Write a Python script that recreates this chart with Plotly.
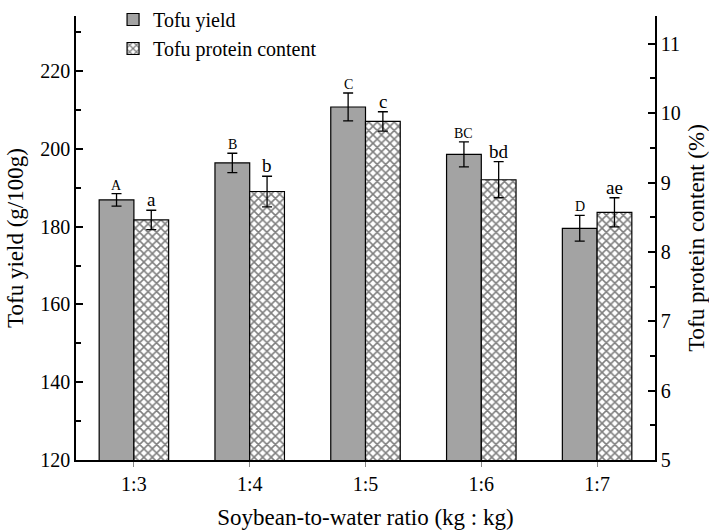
import plotly.graph_objects as go

categories = ["1:3", "1:4", "1:5", "1:6", "1:7"]
yield_vals = [186.9, 196.4, 210.8, 198.6, 179.6]
yield_err = [1.6, 2.5, 3.6, 3.2, 3.3]
protein_vals = [8.46, 8.87, 9.88, 9.04, 8.57]
protein_err = [0.14, 0.22, 0.14, 0.26, 0.21]
yield_letters = ["A", "B", "C", "BC", "D"]
protein_letters = ["a", "b", "c", "bd", "ae"]

FONT = "Liberation Serif"

fig = go.Figure()
fig.add_trace(go.Bar(
    x=categories, y=yield_vals, name="Tofu yield",
    marker=dict(color="#a3a3a3", line=dict(color="black", width=1.2)),
    error_y=dict(type="data", array=yield_err, color="black", thickness=1.3, width=5),
    yaxis="y", offsetgroup="a",
))
fig.add_trace(go.Bar(
    x=categories, y=protein_vals, name="Tofu protein content",
    marker=dict(color="white", line=dict(color="black", width=1.2),
                pattern=dict(shape="x", fgcolor="black", bgcolor="white", size=6, solidity=0.45)),
    error_y=dict(type="data", array=protein_err, color="black", thickness=1.3, width=5),
    yaxis="y2", offsetgroup="b",
))

annotations = []
for c, v, e, t in zip(categories, yield_vals, yield_err, yield_letters):
    annotations.append(dict(x=c, y=v + e, xref="x", yref="y", text=t, showarrow=False,
                            xshift=-17.5, yanchor="bottom", yshift=-1,
                            font=dict(family=FONT, size=14, color="black")))
for c, v, e, t in zip(categories, protein_vals, protein_err, protein_letters):
    annotations.append(dict(x=c, y=v + e, xref="x", yref="y2", text=t, showarrow=False,
                            xshift=17.5, yanchor="bottom", yshift=-2,
                            font=dict(family=FONT, size=19, color="black")))

fig.update_layout(
    width=709, height=532,
    margin=dict(l=76, r=54, t=0, b=72),
    paper_bgcolor="white", plot_bgcolor="white",
    barmode="group", bargap=0.4, bargroupgap=0,
    font=dict(family=FONT, color="black", size=20),
    showlegend=True,
    legend=dict(x=0.064, y=1.037, xanchor="left", yanchor="top",
                font=dict(family=FONT, size=20), bgcolor="rgba(0,0,0,0)",
                tracegroupgap=0, itemwidth=30),
    xaxis=dict(
        range=[-0.5, 4.5], showline=True, linecolor="black", linewidth=1.5,
        ticks="outside", ticklen=5, tickcolor="#888", tickwidth=1,
        tickfont=dict(family=FONT, size=20), automargin=False,
        title=dict(text="Soybean-to-water ratio (kg : kg)", font=dict(family=FONT, size=23), standoff=15),
        showgrid=False, zeroline=False, mirror=False,
    ),
    yaxis=dict(
        range=[120, 234.2], showline=True, linecolor="black", linewidth=1.5,
        ticks="inside", ticklen=7, tickwidth=1.5, tickcolor="black",
        tickvals=[120, 140, 160, 180, 200, 220], automargin=False,
        minor=dict(tickvals=[130, 150, 170, 190, 210, 230], ticks="inside", ticklen=5,
                   tickwidth=1.5, tickcolor="black", showgrid=False),
        tickfont=dict(family=FONT, size=20),
        title=dict(text="Tofu yield (g/100g)", font=dict(family=FONT, size=23), standoff=10),
        showgrid=False, zeroline=False,
    ),
    yaxis2=dict(
        range=[5, 11.4], overlaying="y", side="right", anchor="x",
        showline=True, linecolor="black", linewidth=1.5,
        ticks="inside", ticklen=7, tickwidth=1.5, tickcolor="black",
        tickvals=[5, 6, 7, 8, 9, 10, 11], automargin=False,
        minor=dict(tickvals=[5.5, 6.5, 7.5, 8.5, 9.5, 10.5], ticks="inside", ticklen=5,
                   tickwidth=1.5, tickcolor="black", showgrid=False),
        tickfont=dict(family=FONT, size=20),
        title=dict(text="Tofu protein content (%)", font=dict(family=FONT, size=23), standoff=8),
        showgrid=False, zeroline=False,
    ),
    annotations=annotations,
)

fig.write_html("out.html", config={"displayModeBar": False},
               post_script="document.body.style.margin='0px';")
